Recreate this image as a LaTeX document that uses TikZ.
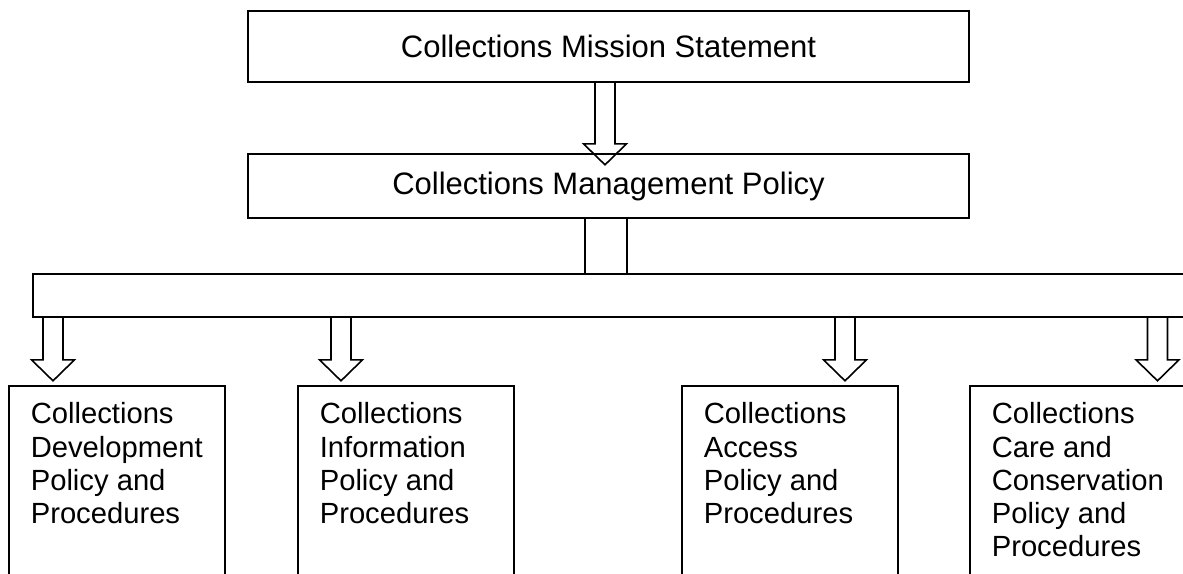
\documentclass[tikz,border=0pt]{standalone}
\usepackage{fontspec}
\setmainfont{Liberation Sans}
\usetikzlibrary{calc}
\newcommand{\bottomtext}[1]{\parbox[t][200pt][t]{216pt}{\raggedright\leftskip=22pt\relax\fontsize{29.2}{33.2}\selectfont\rule{0pt}{38pt}#1}}
\tikzset{
  frame/.style={draw=black, line width=1.6pt, inner sep=0pt},
  topbox/.style={frame, minimum width=721pt, font=\fontsize{31}{35}\selectfont},
  lowbox/.style={frame, anchor=north west},
  conn/.style={draw=black, line width=1.6pt, line join=miter},
}
% block arrow: start coordinate, shaft length to head base
\newcommand{\blockarrow}[2]{%
  \draw[conn, shift={(#1)}] (-10,0) -- (-10,#2) -- (-21.5,#2) -- (0,#2+21) -- (21.5,#2) -- (10,#2) -- (10,0);}
\begin{document}
\begin{tikzpicture}[x=1pt,y=-1pt]
\useasboundingbox (0,0) rectangle (1183,573);
% top boxes
\node[topbox, minimum height=71pt] (mission) at (608.5,46.5) {Collections Mission Statement};
\node[topbox, minimum height=64pt] (policy) at (608.5,186) {Collections Management Policy};
% bar
\node[frame, minimum width=1160pt, minimum height=43pt] (bar) at (613,295.5) {};
% bottom boxes
\node[lowbox] (dev) at (8,385) {\bottomtext{Collections\\Development\\Policy and\\Procedures}};
\node[lowbox] (info) at (297,385) {\bottomtext{Collections\\Information\\Policy and\\Procedures}};
\node[lowbox] (access) at (681,385) {\bottomtext{Collections\\Access\\Policy and\\Procedures}};
\node[lowbox] (care) at (969,385) {\bottomtext{Collections\\Care and\\Conservation\\Policy and\\Procedures}};
% arrow from mission to policy
\coordinate (m0) at (mission.south -| 605,0);
\blockarrow{m0}{61}
% double line from policy to bar
\draw[conn] (policy.south -| 585,0) -- (bar.north -| 585,0);
\draw[conn] (policy.south -| 627,0) -- (bar.north -| 627,0);
% arrows from bar to bottom boxes
\coordinate (b1) at (bar.south -| 53,0);
\coordinate (b2) at (bar.south -| 341,0);
\coordinate (b3) at (bar.south -| 845,0);
\coordinate (b4) at (bar.south -| 1157.5,0);
\blockarrow{b1}{42}
\blockarrow{b2}{42}
\blockarrow{b3}{42}
\blockarrow{b4}{42}
\end{tikzpicture}
\end{document}
